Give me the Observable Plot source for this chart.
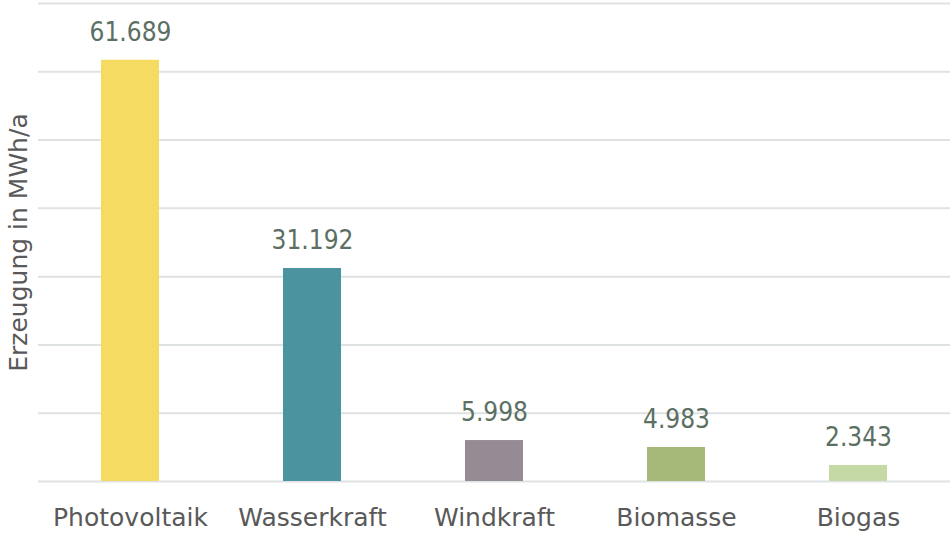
<!DOCTYPE html>
<html>
<head>
<meta charset="utf-8">
<script src="https://cdn.jsdelivr.net/npm/d3@7"></script>
<script src="https://cdn.jsdelivr.net/npm/@observablehq/plot@0.6"></script>
<style>
  html, body { margin: 0; padding: 0; background: #fff; }
  #chart { width: 951px; height: 533px; }
</style>
</head>
<body>
<div id="chart"></div>
<script>
const categories = ["Photovoltaik", "Wasserkraft", "Windkraft", "Biomasse", "Biogas"];
const values = [61689, 31192, 5998, 4983, 2343];
const colors = ["#F6DB63", "#4B949F", "#968A95", "#A6B979", "#C4D9A4"];
const gridTicks = [0, 10000, 20000, 30000, 40000, 50000, 60000, 70000];
const yLabel = "Erzeugung in MWh/a";

const data = categories.map((c, i) => ({ cat: c, value: values[i], color: colors[i] }));
const de = d3.formatLocale({ decimal: ",", thousands: ".", grouping: [3], currency: ["", " €"] });
const fmt = de.format(",d");

const chart = Plot.plot({
  width: 951,
  height: 533,
  marginLeft: 38,
  marginRight: 1,
  marginTop: 3,
  marginBottom: 52,
  style: { background: "#fff", fontFamily: "DejaVu Sans" },
  x: { domain: categories, paddingInner: 0.68, paddingOuter: 0.34, label: null },
  y: { domain: [0, 70000], axis: null },
  marks: [
    Plot.ruleY(gridTicks, { stroke: "#dfe2e2", strokeWidth: 2 }),
    Plot.barY(data, { x: "cat", y: "value", fill: "color" }),
    Plot.text(data, { x: "cat", y: "value", text: d => fmt(d.value), dy: -28, fill: "#5B6F63", fontSize: 26, fontFamily: "DejaVu Sans Condensed" }),
    Plot.axisX({ tickSize: 0, tickPadding: 27, fontSize: 25, fill: "#595959", fontFamily: "DejaVu Sans" }),
    Plot.text([yLabel], { frameAnchor: "left", textAnchor: "middle", rotate: -90, dx: -20, fontSize: 25, fill: "#595959", fontFamily: "DejaVu Sans" })
  ]
});
document.getElementById("chart").appendChild(chart);
</script>
</body>
</html>
